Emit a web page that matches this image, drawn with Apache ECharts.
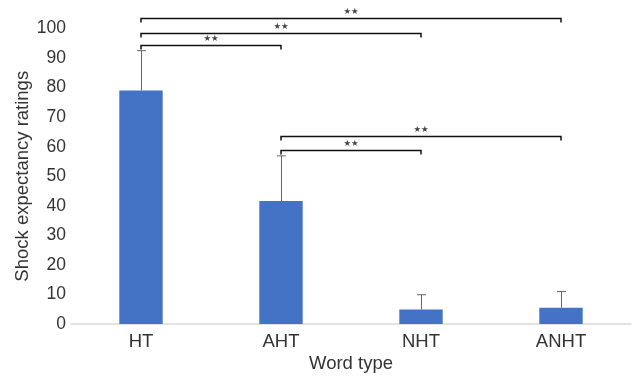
<!DOCTYPE html>
<html>
<head>
<meta charset="utf-8">
<script src="https://cdn.jsdelivr.net/npm/echarts@6/dist/echarts.min.js"></script>
<style>html,body{margin:0;padding:0;background:#fff}#c{width:632px;height:378px}</style>
</head>
<body>
<div id="c"></div>
<script>
const categories = ['HT', 'AHT', 'NHT', 'ANHT'];
const means = [79, 41.6, 4.9, 5.5];
const errorTops = [92.5, 56.9, 9.9, 11];
const yTicks = [0, 10, 20, 30, 40, 50, 60, 70, 80, 90, 100];
// brackets: [fromIndex, toIndex, yValue, label]
const brackets = [
  [0, 3, 103.5, '★★'],
  [0, 2, 98.6, '★★'],
  [0, 1, 94.4, '★★'],
  [1, 3, 63.6, '★★'],
  [1, 2, 59.0, '★★']
];

const font = 'Liberation Sans, Arial, Helvetica, sans-serif';
const chart = echarts.init(document.getElementById('c'));
chart.setOption({
  animation: false,
  grid: { left: 71, right: 1, top: 28.5, bottom: 54, outerBoundsMode: 'none', containLabel: false },
  xAxis: {
    type: 'category',
    data: categories,
    name: 'Word type',
    nameLocation: 'middle',
    nameGap: 30,
    nameMoveOverlap: false,
    nameTextStyle: { fontSize: 18.5, color: '#333', fontFamily: font },
    axisLine: { lineStyle: { color: '#d9d9d9', width: 1.5 } },
    axisTick: { show: false },
    axisLabel: { fontSize: 18.5, color: '#333', fontFamily: font, margin: 8 }
  },
  yAxis: {
    type: 'value',
    min: yTicks[0],
    max: yTicks[yTicks.length - 1],
    interval: 10,
    name: 'Shock expectancy ratings',
    nameLocation: 'middle',
    nameGap: 39,
    nameMoveOverlap: false,
    nameTextStyle: { fontSize: 18.5, color: '#333', fontFamily: font },
    axisLine: { show: false },
    axisTick: { show: false },
    splitLine: { show: false },
    axisLabel: { fontSize: 17.5, color: '#333', fontFamily: font, margin: 5 }
  },
  series: [
    {
      type: 'bar',
      data: means,
      barWidth: '31%',
      itemStyle: { color: '#4472C4' }
    },
    {
      type: 'custom',
      clip: false,
      data: means.map((m, i) => [i, m, errorTops[i]]),
      renderItem: function (params, api) {
        const base = api.coord([api.value(0), api.value(1)]);
        const top = api.coord([api.value(0), api.value(2)]);
        const x = Math.round(base[0]) + 0.5;
        return {
          type: 'group',
          children: [
            { type: 'line', shape: { x1: x, y1: base[1], x2: x, y2: top[1] }, style: { stroke: '#666', lineWidth: 1 } },
            { type: 'line', shape: { x1: x - 4.5, y1: top[1], x2: x + 4.5, y2: top[1] }, style: { stroke: '#666', lineWidth: 1 } }
          ]
        };
      },
      z: 3
    },
    {
      type: 'custom',
      clip: false,
      data: brackets.map(b => [b[0], b[1], b[2]]),
      renderItem: function (params, api) {
        const b = brackets[params.dataIndex];
        const p1 = api.coord([api.value(0), api.value(2)]);
        const p2 = api.coord([api.value(1), api.value(2)]);
        const y = Math.round(p1[1]) + 0.5;
        return {
          type: 'group',
          children: [
            { type: 'polyline', shape: { points: [[p1[0], y + 4], [p1[0], y], [p2[0], y], [p2[0], y + 4]] }, style: { stroke: '#111', lineWidth: 1.5, fill: null } },
            { type: 'text', style: { text: b[3], x: (p1[0] + p2[0]) / 2, y: y - 2, align: 'center', verticalAlign: 'bottom', fontSize: 8.5, fill: '#444', fontFamily: 'DejaVu Sans' } }
          ]
        };
      },
      z: 4
    }
  ]
});
</script>
</body>
</html>
